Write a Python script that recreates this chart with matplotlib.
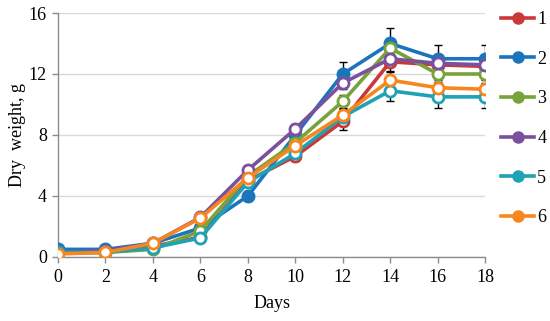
import matplotlib
matplotlib.use("Agg")
import matplotlib.pyplot as plt
from matplotlib.lines import Line2D

days = [0, 2, 4, 6, 8, 10, 12, 14, 16, 18]
series_names = ["1", "2", "3", "4", "5", "6"]
s1 = [0.3, 0.3, 0.7, 1.3, 5.0, 6.6, 8.9, 12.8, 12.6, 12.5]
s2 = [0.5, 0.5, 0.9, 1.9, 4.0, 8.0, 12.0, 14.0, 13.0, 13.0]
s3 = [0.3, 0.3, 0.5, 1.7, 5.3, 7.5, 10.2, 13.7, 12.0, 12.0]
s4 = [0.3, 0.4, 0.9, 2.6, 5.7, 8.4, 11.4, 13.0, 12.7, 12.6]
s5 = [0.3, 0.3, 0.6, 1.25, 4.9, 6.8, 9.2, 10.9, 10.5, 10.5]
s6 = [0.2, 0.3, 0.9, 2.55, 5.2, 7.3, 9.3, 11.6, 11.1, 11.0]
e1 = [0.05, 0.05, 0.1, 0.15, 0.3, 0.3, 0.6, 0.6, 0.5, 0.5]
e2 = [0.05, 0.05, 0.1, 0.15, 0.3, 0.4, 0.8, 1.0, 0.9, 0.9]
e3 = [0.05, 0.05, 0.1, 0.1, 0.2, 0.3, 0.4, 0.5, 0.4, 0.4]
e4 = [0.05, 0.05, 0.1, 0.1, 0.2, 0.3, 0.4, 0.5, 0.4, 0.4]
e5 = [0.05, 0.05, 0.1, 0.1, 0.2, 0.3, 0.5, 0.7, 0.7, 0.7]
e6 = [0.05, 0.05, 0.1, 0.1, 0.2, 0.3, 0.4, 0.5, 0.4, 0.4]
values = [s1, s2, s3, s4, s5, s6]
errors = [e1, e2, e3, e4, e5, e6]
colors = ["#C9393A", "#1C75BC", "#77A33A", "#7B519D", "#1FA2B5", "#F7861F"]
filled = [False, True, False, False, False, False]

plt.rcParams['font.family'] = ['Liberation Serif', 'DejaVu Serif']

fig = plt.figure(figsize=(5.5, 3.21), dpi=100)
ax = fig.add_axes([0.1055, 0.1994, 0.7765, 0.7601])

for v, e in zip(values, errors):
    ax.errorbar(days, v, yerr=e, fmt='none', ecolor='black', elinewidth=1.0,
                capsize=3, capthick=1.0, zorder=2)
for v, c, f in zip(values, colors, filled):
    ax.plot(days, v, color=c, lw=2.6, marker='o', ms=8,
            mfc=c if f else 'white', mec=c, mew=2.0, zorder=3)

ax.set_xlim(0, 18)
ax.set_ylim(0, 16)
ax.set_xticks(days)
ax.set_yticks([0, 4, 8, 12, 16])
ax.yaxis.grid(True, color='#D9D9D9', lw=1.0)
ax.set_axisbelow(True)
for s in ['top', 'right']:
    ax.spines[s].set_visible(False)
for s in ['left', 'bottom']:
    ax.spines[s].set_color('#8C8C8C')
    ax.spines[s].set_linewidth(1.0)
ax.tick_params(axis='both', colors='#8C8C8C', labelcolor='black', labelsize=13,
               length=4, width=1.0)
ax.tick_params(axis='x', pad=5)
ax.tick_params(axis='y', pad=4)
ax.set_xlabel("Days", fontsize=13, labelpad=6)
ax.set_ylabel("Dry  weight, g", fontsize=13, labelpad=2)

handles = [Line2D([0], [0], color=c, lw=2.6, marker='o', ms=8, mfc=c, mec=c)
           for c in colors]
leg = fig.legend(handles, series_names, loc='upper left',
                 bbox_to_anchor=(0.911, 0.965), frameon=False, fontsize=13,
                 borderpad=0, borderaxespad=0, handlelength=1.85,
                 handletextpad=0.15, labelspacing=1.25)

fig.savefig("out.png", dpi=100)
